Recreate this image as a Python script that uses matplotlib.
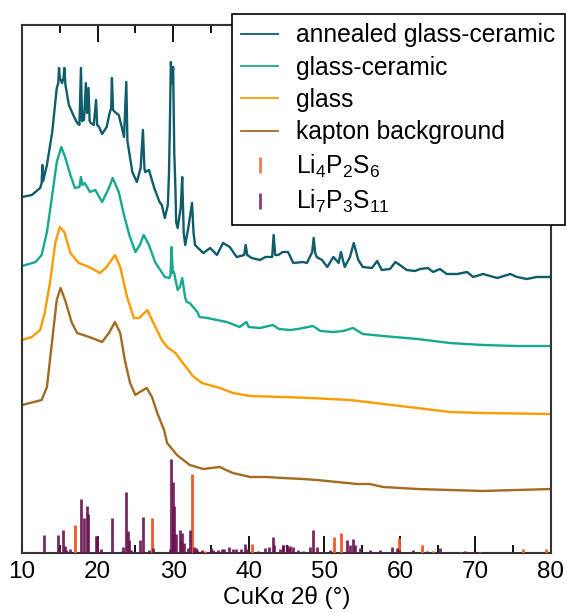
import matplotlib
matplotlib.use("Agg")
import matplotlib.pyplot as plt
from matplotlib.lines import Line2D
import numpy as np

plt.rcParams['font.family'] = ['Liberation Sans', 'DejaVu Sans']
plt.rcParams['mathtext.fontset'] = 'custom'
plt.rcParams['mathtext.rm'] = 'Liberation Sans'
plt.rcParams['mathtext.default'] = 'regular'

# --- diffraction patterns (2theta in degrees, intensity in arbitrary offset units) ---
annealed_tt = [10.0, 11.3, 12.4, 12.6, 12.7, 12.8, 13.3, 14.0, 14.6, 14.8, 14.9, 15.0, 15.3, 15.5,
               15.6, 15.75, 16.2, 16.9, 17.3, 17.6, 17.8, 17.95, 18.2, 18.45, 18.6, 18.8, 18.95,
               19.1, 19.5, 19.8, 19.95, 20.2, 20.6, 21.2, 21.6, 21.8, 21.9, 22.05, 22.3, 22.8,
               23.2, 23.5, 23.8, 23.95, 24.1, 24.6, 25.2, 25.7, 26.0, 26.2, 26.3, 26.8, 27.5,
               28.2, 28.5, 28.9, 29.3, 29.45, 29.55, 29.7, 29.85, 30.0, 30.15, 30.3, 30.4, 30.6,
               31.0, 31.2, 31.4, 31.6, 32.0, 32.5, 32.7, 32.9, 33.3, 34.0, 34.9, 35.8, 36.6,
               37.5, 38.4, 39.4, 39.6, 39.8, 40.4, 41.5, 42.2, 43.1, 43.3, 43.5, 43.9, 44.5,
               45.2, 45.9, 47.2, 47.7, 48.4, 48.6, 48.8, 49.0, 49.7, 50.4, 51.2, 51.9, 52.2,
               52.7, 53.4, 53.9, 54.5, 55.1, 56.3, 57.0, 57.6, 58.7, 59.4, 60.0, 60.9, 62.0,
               62.7, 63.7, 64.4, 65.3, 66.2, 67.6, 68.9, 69.7, 71.0, 72.9, 74.6, 75.5, 76.8,
               78.1, 80.0]
annealed_int = [356, 358, 365, 370, 388, 372, 388, 421, 465, 470, 485, 475, 470, 475,
                485, 468, 448, 436, 430, 428, 485, 432, 433, 470, 440, 465, 432,
                430, 428, 453, 428, 426, 419, 426, 440, 445, 475, 443, 441, 438,
                426, 416, 471, 412, 405, 381, 371, 385, 423, 385, 381, 383, 365,
                351, 348, 335, 348, 380, 420, 491, 470, 486, 400, 365, 331, 325,
                345, 376, 320, 308, 325, 350, 320, 308, 305, 300, 305, 298, 310,
                306, 296, 298, 308, 298, 295, 293, 296, 296, 318, 298, 298, 301,
                301, 290, 291, 290, 301, 315, 300, 296, 293, 286, 296, 290, 301,
                286, 296, 310, 293, 286, 285, 292, 283, 284, 291, 288, 283, 282,
                284, 285, 281, 284, 279, 279, 281, 276, 279, 275, 279, 276, 274,
                276, 276]

glass_ceramic_tt = [10.0, 11.8, 12.6, 13.3, 14.0, 14.6, 15.2, 15.7, 16.4, 17.0, 17.6, 17.8,
                    18.0, 18.3, 19.0, 19.7, 20.6, 21.5, 22.0, 22.8, 23.5, 24.2, 25.0, 25.6,
                    26.1, 26.8, 27.6, 28.9, 29.5, 29.65, 29.8, 29.95, 30.1, 30.6, 30.9, 31.2,
                    31.6, 31.8, 32.2, 33.2, 33.5, 34.5, 35.8, 37.1, 38.8, 39.7, 40.0, 41.5,
                    43.2, 44.0, 45.5, 46.5, 48.5, 49.5, 51.2, 52.5, 53.8, 55.1, 57.8, 62.3,
                    66.6, 71.0, 75.5, 80.0]
glass_ceramic_int = [287, 291, 298, 321, 358, 391, 406, 396, 378, 365, 366, 376,
                     368, 370, 361, 363, 351, 365, 375, 361, 338, 318, 301, 308,
                     318, 308, 291, 276, 275, 278, 306, 280, 281, 263, 266, 275,
                     255, 251, 250, 241, 236, 235, 233, 231, 226, 231, 226, 225,
                     228, 224, 223, 224, 227, 222, 221, 222, 225, 219, 217, 214,
                     210, 208, 207, 207]

glass_tt = [10.0, 11.3, 12.4, 13.0, 13.7, 14.4, 15.0, 15.6, 16.4, 17.5, 18.9, 20.3, 21.2,
            22.3, 23.0, 23.9, 24.8, 25.5, 26.6, 27.2, 28.5, 29.2, 30.3, 31.3, 32.1, 32.6,
            33.8, 36.2, 37.9, 40.2, 44.5, 48.1, 53.4, 57.8, 62.3, 66.6, 71.0, 80.0]
glass_int = [213, 216, 223, 240, 270, 310, 326, 321, 300, 290, 286, 280, 286,
             298, 286, 256, 235, 235, 243, 233, 213, 206, 200, 190, 182, 177,
             170, 165, 160, 157, 156, 155, 153, 149, 145, 141, 140, 139]

kapton_tt = [10.0, 12.6, 13.3, 14.0, 14.6, 15.1, 15.7, 16.6, 17.3, 18.9, 20.6, 21.5, 22.3,
             23.0, 23.6, 24.3, 25.0, 25.6, 26.5, 27.2, 27.9, 28.8, 29.2, 30.5, 32.2, 34.0,
             35.0, 36.2, 37.0, 37.9, 40.2, 42.4, 44.5, 47.2, 49.0, 51.7, 54.3, 56.0, 57.8,
             62.3, 66.6, 71.0, 75.5, 80.0]
kapton_int = [148, 153, 166, 213, 253, 265, 253, 230, 220, 216, 211, 220, 231,
              220, 193, 170, 158, 161, 165, 156, 140, 123, 110, 98, 88, 84,
              85, 86, 83, 80, 76, 76, 75, 74, 73, 71, 69, 69, 66,
              64, 63, 62, 63, 64]

# --- reference stick patterns ---
li4p2s6_tt = [16.97, 27.16, 32.54, 34.2, 40.48, 51.33, 52.17, 59.84, 62.9, 64.43, 67.96,
              70.6, 76.26, 79.34]
li4p2s6_int = [28, 35, 79, 2, 9, 16, 20, 15, 8, 2, 1, 1, 4, 4]

li7p3s11_tt = [12.95, 14.76, 14.94, 15.47, 15.64, 15.87, 16.4, 17.85, 18.2, 18.56, 18.73,
               19.79, 19.97, 20.5, 21.87, 23.23, 23.4, 23.8, 24.03, 24.2, 24.38, 25.66,
               25.97, 26.85, 27.38, 29.54, 29.68, 29.94, 30.16, 30.38, 30.9, 31.04, 31.2,
               31.43, 31.9, 32.23, 32.72, 32.98, 33.2, 33.78, 34.97, 35.23, 35.98, 36.4,
               36.73, 37.4, 37.88, 38.32, 38.94, 39.5, 39.8, 41.27, 42.16, 42.68, 43.17,
               43.35, 44.14, 44.5, 44.58, 45.03, 45.38, 45.47, 45.9, 46.57, 47.23, 48.1,
               48.55, 49.0, 50.76, 52.97, 53.4, 53.85, 54.07, 54.73, 56.05, 57.37, 58.9,
               59.6, 59.93, 61.78, 63.55, 65.31, 68.62]
li7p3s11_int = [18, 18, 5, 23, 7, 3, 4, 54, 35, 47, 39,
                17, 17, 4, 35, 2, 6, 61, 22, 13, 3, 13,
                36, 3, 5, 4, 94, 71, 47, 19, 23, 13, 20,
                10, 5, 23, 6, 5, 3, 3, 5, 3, 3, 4,
                4, 6, 4, 4, 4, 9, 4, 2, 5, 6, 16,
                8, 4, 8, 8, 8, 5, 7, 6, 3, 2, 6,
                23, 6, 3, 13, 8, 14, 8, 5, 3, 3, 6,
                5, 3, 3, 2, 5, 2]

labels = ["annealed glass-ceramic", "glass-ceramic", "glass", "kapton background",
          r"Li$_4$P$_2$S$_6$", r"Li$_7$P$_3$S$_{11}$"]
colors = ["#0f5c6b", "#17a98f", "#ff9a00", "#a36a22", "#f4592a", "#6b1250"]

x_ticks = [10, 20, 30, 40, 50, 60, 70, 80]
FS = 17.5

fig = plt.figure(figsize=(5.67, 6.13), dpi=100)
ax = fig.add_axes([22 / 567, 60 / 613, 529 / 567, 528 / 613])

curves = [(annealed_tt, annealed_int), (glass_ceramic_tt, glass_ceramic_int),
          (glass_tt, glass_int), (kapton_tt, kapton_int)]
handles = []
for (tt, inten), c, lab in zip(curves, colors[:4], labels[:4]):
    ax.plot(tt, inten, color=c, lw=1.7, solid_joinstyle='round')
    handles.append(Line2D([], [], color=c, lw=1.3, label=lab))

ax.vlines(li4p2s6_tt, 0, li4p2s6_int, color=colors[4], lw=2.0, zorder=3)
ax.vlines(li7p3s11_tt, 0, li7p3s11_int, color=colors[5], lw=2.0, alpha=0.9, zorder=3)
for c, lab in zip(colors[4:], labels[4:]):
    handles.append(Line2D([], [], color=c, marker='|', ls='none', ms=12, mew=2.0,
                          alpha=0.8, label=lab))

ax.set_xlim(10, 80)
ax.set_ylim(0, 528)
ax.set_xticks(x_ticks)
ax.set_xticks(np.arange(15, 80, 10), minor=True)
ax.set_yticks([])
ax.tick_params(axis='x', which='major', direction='in', length=12, width=1.3,
               top=True, labelsize=FS, pad=6, color='black')
ax.tick_params(axis='x', which='minor', direction='in', length=6, width=1.3,
               top=True, color='black')
for s in ax.spines.values():
    s.set_color('#333333')
    s.set_linewidth(1.5)

ax.set_xlabel("CuKα 2θ (°)", fontsize=FS, labelpad=2)

leg = ax.legend(handles=handles, loc='upper right', bbox_to_anchor=(1.0265, 1.021),
                borderaxespad=0, prop={'size': 17.7}, frameon=True, fancybox=False,
                handlelength=1.5, handletextpad=0.75, labelspacing=0.34,
                borderpad=0.38)
leg.get_frame().set_edgecolor('black')
leg.get_frame().set_linewidth(1.2)
leg.get_frame().set_alpha(1)

fig.savefig("out.png", dpi=100)
